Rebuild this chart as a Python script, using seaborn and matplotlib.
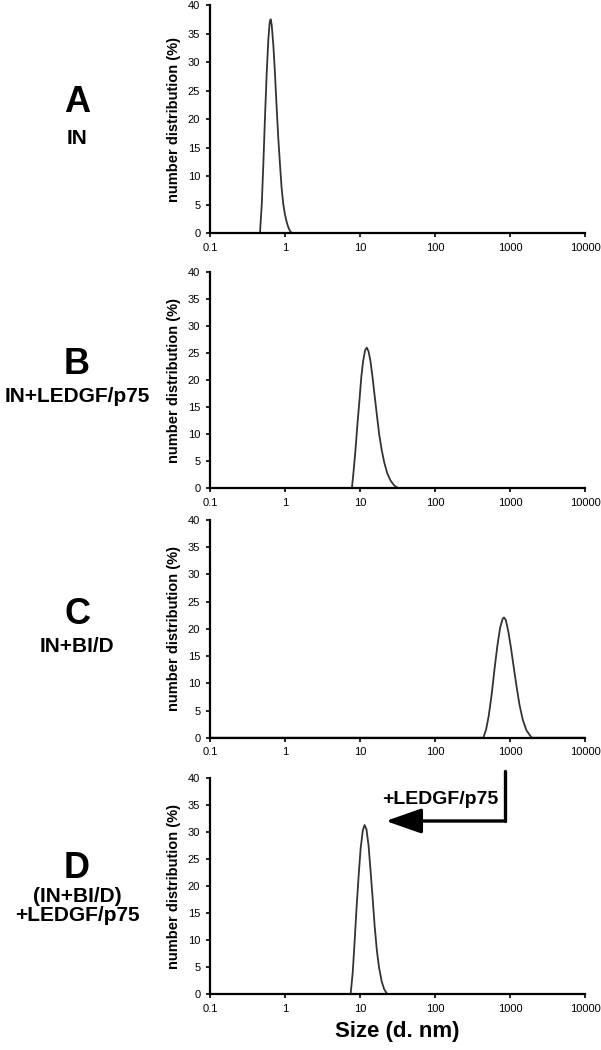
import numpy as np
import pandas as pd
import seaborn as sns
import matplotlib
matplotlib.use('Agg')
import matplotlib.pyplot as plt
from matplotlib.patches import FancyArrowPatch

size_a = [0.1, 0.44, 0.464, 0.49, 0.514, 0.54, 0.57, 0.6, 0.625, 0.644, 0.665, 0.699,
          0.735, 0.774, 0.815, 0.858, 0.9, 0.95, 1.0, 1.05, 1.1, 1.17, 1.25, 10000]
pct_a = [0, 0, 0, 5, 12, 20, 28, 34, 37, 37.5, 36.5, 33,
         28, 22, 16.5, 12, 8, 5, 3.2, 2, 1.1, 0.3, 0, 0]

size_b = [0.1, 7.5, 7.8, 8.2, 8.7, 9.2, 9.8, 10.4, 11, 11.7, 12.3, 13, 13.8, 14.7,
          15.7, 16.8, 18, 19.5, 21, 23, 25.5, 28.5, 32, 10000]
pct_b = [0, 0, 0, 3, 7, 11.5, 16, 20.5, 23.5, 25.5, 26, 25.3, 23.5, 20.5,
         17, 13.5, 10, 7, 4.8, 2.8, 1.4, 0.5, 0, 0]

size_c = [0.1, 420, 441, 480, 520, 570, 620, 680, 740, 800, 832, 880, 950, 1030,
          1120, 1220, 1340, 1480, 1650, 1850, 1950, 10000]
pct_c = [0, 0, 0, 1.5, 4, 8, 12.5, 17, 20.3, 21.9, 22.1, 21.6, 19.5, 16.5,
         13, 9.5, 6, 3.3, 1.4, 0.4, 0, 0]

size_d = [0.1, 7.2, 7.5, 8, 8.5, 9, 9.6, 10.2, 10.9, 11.5, 12.2, 13, 13.8, 14.7,
          15.7, 16.8, 18, 19.5, 21, 23, 10000]
pct_d = [0, 0, 0, 4, 10, 16, 22, 27, 30.3, 31.3, 30.5, 27.5, 23, 18,
         12.5, 8, 4.8, 2.3, 0.9, 0, 0]

panel_letters = ["A", "B", "C", "D"]
panel_names = ["IN", "IN+LEDGF/p75", "IN+BI/D", "(IN+BI/D)\n+LEDGF/p75"]
x_ticks = [0.1, 1, 10, 100, 1000, 10000]
x_tick_labels = ["0.1", "1", "10", "100", "1000", "10000"]
y_ticks = [0, 5, 10, 15, 20, 25, 30, 35, 40]

sns.set_style("ticks")
plt.rcParams['font.family'] = ['Liberation Sans', 'DejaVu Sans']
plt.rcParams['text.color'] = 'black'
plt.rcParams['axes.labelcolor'] = 'black'
plt.rcParams['xtick.color'] = 'black'
plt.rcParams['ytick.color'] = 'black'

fig = plt.figure(figsize=(6.01, 10.5), dpi=100)

# axes boxes [left, bottom, width, height] in figure fractions
boxes = [
    [0.3494, 0.7781, 0.624, 0.2171],
    [0.3494, 0.5352, 0.624, 0.2057],
    [0.3494, 0.2974, 0.624, 0.2073],
    [0.3494, 0.0533, 0.624, 0.2057],
]
series = [(size_a, pct_a), (size_b, pct_b), (size_c, pct_c), (size_d, pct_d)]
# panel label centres (pixels from top)
letter_y = [103, 365, 615, 868]
name_y = [139, 397, 647, 906]

axes = []
for i, (box, (sx, sy)) in enumerate(zip(boxes, series)):
    ax = fig.add_axes(box)
    df = pd.DataFrame({"size": sx, "pct": sy})
    sns.lineplot(data=df, x="size", y="pct", ax=ax, color="#333333", linewidth=1.3)
    ax.set_xscale("log")
    ax.set_xlim(0.1, 10000)
    ax.set_ylim(0, 40)
    ax.set_xticks(x_ticks)
    ax.set_xticklabels(x_tick_labels)
    ax.minorticks_off()
    ax.set_yticks(y_ticks)
    ax.tick_params(axis="both", labelsize=8, length=3, width=1.2,
                   direction="out", pad=4)
    ax.tick_params(axis="x", pad=4)
    sns.despine(ax=ax)
    for s in ["left", "bottom"]:
        ax.spines[s].set_color("black")
        ax.spines[s].set_linewidth(1.6)
    ax.set_ylabel("number distribution (%)", fontsize=10.5, fontweight="bold", labelpad=5)
    ax.set_xlabel("")
    fig.text(77 / 601, 1 - letter_y[i] / 1050, panel_letters[i], fontsize=26,
             fontweight="bold", ha="center", va="center")
    fig.text(77 / 601, 1 - name_y[i] / 1050, panel_names[i], fontsize=15,
             fontweight="bold", ha="center", va="center", linespacing=1.05)
    axes.append(ax)

axes[-1].set_xlabel("Size (d. nm)", fontsize=16, fontweight="bold", labelpad=5)

# bracket arrow: from C peak down to D peak
x_bend, y_top, y_mid = 505 / 601, 1 - 771 / 1050, 1 - 821 / 1050
x_tip = 383 / 601
fig.add_artist(plt.Line2D([x_bend, x_bend], [y_top, y_mid], color="black",
                          linewidth=2.4, transform=fig.transFigure))
fig.add_artist(FancyArrowPatch(
    (x_bend + 0.002, y_mid), (x_tip, y_mid), transform=fig.transFigure,
    arrowstyle="-|>,head_length=10,head_width=3.5", color="black",
    linewidth=2.4, mutation_scale=2.2))
fig.text(440 / 601, 1 - 800 / 1050, "+LEDGF/p75", fontsize=14,
         fontweight="bold", ha="center", va="center")

fig.savefig("out.png", dpi=100)
